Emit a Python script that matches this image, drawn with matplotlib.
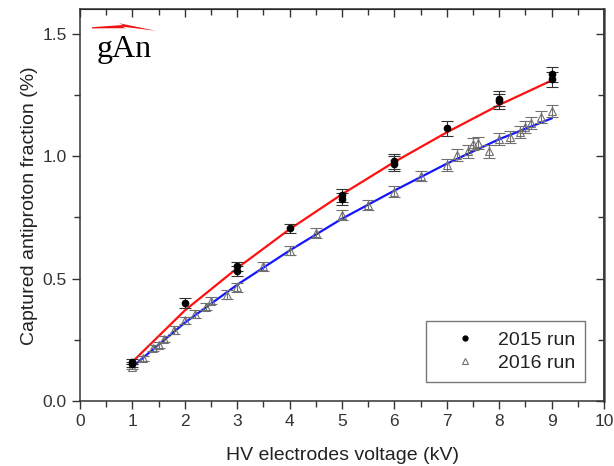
import numpy as np
import matplotlib
matplotlib.use("Agg")
import matplotlib.pyplot as plt
from matplotlib.lines import Line2D
from matplotlib.patches import Polygon
from matplotlib.ticker import MultipleLocator

plt.rcParams['font.family'] = ['Liberation Sans', 'DejaVu Sans']

# 2015 run
v15 = [1, 1, 2, 3, 3, 4, 5, 5, 6, 6, 7, 8, 8, 9, 9]
f15 = [0.16, 0.15, 0.40, 0.55, 0.53, 0.705, 0.84, 0.825, 0.98, 0.97, 1.115, 1.235, 1.225, 1.335, 1.315]
e15 = [0.01, 0.01, 0.02, 0.02, 0.02, 0.02, 0.025, 0.025, 0.03, 0.03, 0.03, 0.03, 0.03, 0.03, 0.03]

# 2016 run
v16 = [1.0, 1.2, 1.4, 1.5, 1.6, 1.8, 2.0, 2.2, 2.4, 2.5, 2.8, 3.0, 3.5, 4.0, 4.5,
       5.0, 5.5, 6.0, 6.5, 7.0, 7.2, 7.4, 7.5, 7.6, 7.8, 8.0, 8.2, 8.4, 8.5, 8.6, 8.8, 9.0]
f16 = [0.14, 0.175, 0.215, 0.23, 0.255, 0.29, 0.33, 0.355, 0.385, 0.41, 0.435, 0.465, 0.55, 0.615, 0.685,
       0.76, 0.80, 0.855, 0.92, 0.965, 1.005, 1.02, 1.05, 1.055, 1.02, 1.07, 1.08, 1.10, 1.12, 1.135, 1.16, 1.185]
e16 = [0.01, 0.01, 0.012, 0.012, 0.012, 0.015, 0.015, 0.015, 0.015, 0.015, 0.018, 0.018, 0.018, 0.02, 0.02,
       0.02, 0.02, 0.022, 0.022, 0.025, 0.025, 0.025, 0.025, 0.025, 0.025, 0.025, 0.025, 0.025, 0.025, 0.025, 0.025, 0.025]

# fitted curves
vfit = [1, 2, 3, 4, 5, 6, 7, 8, 9]
fit15 = [0.16, 0.37, 0.543, 0.702, 0.845, 0.977, 1.098, 1.21, 1.31]
fit16 = [0.14, 0.32, 0.475, 0.615, 0.745, 0.86, 0.97, 1.07, 1.155]

fig = plt.figure(figsize=(6.14, 4.66), dpi=100)
ax = fig.add_axes([80/614, 65/466, 524/614, 391.5/466])

ax.plot(vfit, fit15, color='#ff1010', lw=1.6, zorder=2)
ax.plot(vfit, fit16, color='#1515ff', lw=1.6, zorder=2)

ax.errorbar(v16, f16, yerr=e16, fmt='^', ms=6, mfc='none', mec='#707070', mew=0.8,
            ecolor='#707070', elinewidth=0.8, capsize=4, capthick=0.8, zorder=3)
ax.errorbar(v15, f15, yerr=e15, fmt='o', ms=4.5, color='black',
            ecolor='#333333', elinewidth=0.8, capsize=4, capthick=0.8, zorder=4)

ax.set_xlim(0, 10)
ax.set_ylim(0, 1.6)
ax.xaxis.set_major_locator(MultipleLocator(1))
ax.xaxis.set_minor_locator(MultipleLocator(0.5))
ax.yaxis.set_major_locator(MultipleLocator(0.5))
ax.yaxis.set_minor_locator(MultipleLocator(0.25))
ax.tick_params(which='both', direction='out', colors='#333333', labelsize=12.5, width=1)
ax.tick_params(which='major', length=6)
ax.tick_params(which='minor', length=4)

# inward ticks on top and right
top = ax.secondary_xaxis('top')
top.xaxis.set_major_locator(MultipleLocator(1))
top.xaxis.set_minor_locator(MultipleLocator(0.5))
top.tick_params(which='both', direction='in', labeltop=False, colors='#333333', width=1)
top.tick_params(which='major', length=6)
top.tick_params(which='minor', length=4)
right = ax.secondary_yaxis('right')
right.yaxis.set_major_locator(MultipleLocator(0.5))
right.yaxis.set_minor_locator(MultipleLocator(0.25))
right.tick_params(which='both', direction='in', labelright=False, colors='#333333', width=1)
right.tick_params(which='major', length=6)
right.tick_params(which='minor', length=4)
for s in ax.spines.values():
    s.set_color('#333333')
    s.set_linewidth(1.1)
right.spines['right'].set_color('#555555')
right.spines['right'].set_linewidth(1.8)

ax.set_xlabel('HV electrodes voltage (kV)', fontsize=14, color='#222222', labelpad=13)
ax.set_ylabel('Captured antiproton fraction (%)', fontsize=14, color='#222222', labelpad=3)

handles = [Line2D([], [], ls='none', marker='o', ms=3.5, color='black'),
           Line2D([], [], ls='none', marker='^', ms=4, mfc='none', mec='#707070', mew=0.8)]
leg = ax.legend(handles, ['2015 run', '2016 run'], loc='lower right',
                bbox_to_anchor=(0.964, 0.049), borderaxespad=0, fontsize=14,
                fancybox=False, borderpad=0.5, handlelength=3.0, handletextpad=0.2,
                labelspacing=0.3)
leg.get_frame().set_edgecolor('#555555')
leg.get_frame().set_linewidth(1)
for t in leg.get_texts():
    t.set_color('#222222')

# gAn logo: red zigzag flash above the letters
bolt = [(92, 27.2), (123, 25.0), (119, 23.2), (156, 30.8),
        (122, 26.6), (126, 28.2), (92, 28.4)]
bolt = [(x/614, 1 - y/466) for x, y in bolt]
fig.add_artist(Polygon(bolt, closed=True, transform=fig.transFigure,
                       facecolor='#ee1111', edgecolor='none'))
fig.text(97/614, 1 - 57/466, 'gAn', fontsize=23, family='Liberation Serif',
         color='black', ha='left', va='baseline')

fig.savefig('out.png', dpi=100)
